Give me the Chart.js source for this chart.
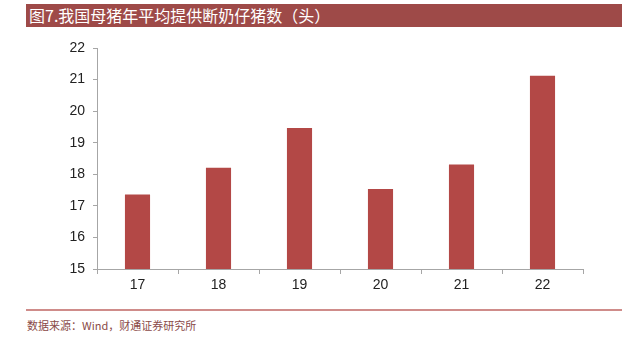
<!DOCTYPE html>
<html>
<head>
<meta charset="utf-8">
<script src="https://cdn.jsdelivr.net/npm/chart.js@4.4.1/dist/chart.umd.min.js"></script>
<style>
  body { margin: 0; background: #fff; }
  #wrap { position: relative; width: 641px; height: 343px; overflow: hidden; }
  #title {
    position: absolute; left: 26px; top: 4px; width: 596px; height: 23px;
    background: #9e4a48; color: #fff;
    font: 16px "Noto Sans CJK SC", sans-serif; line-height: 23px;
    padding-left: 3px; box-sizing: border-box;
  }
  #chartBox { position: absolute; left: 0; top: 30px; width: 641px; height: 270px; }
  #rule { position: absolute; left: 26px; top: 309px; width: 596px; height: 2px; background: #cf8c8a; }
  #source {
    position: absolute; left: 27px; top: 317px;
    font: 11px "Noto Sans CJK SC", sans-serif; color: #8a4a48;
  }
</style>
</head>
<body>
<div id="wrap">
  <div id="title">图7.我国母猪年平均提供断奶仔猪数（头）</div>
  <div id="chartBox"><canvas id="pigChart"></canvas></div>
  <div id="rule"></div>
  <div id="source">数据来源：Wind，财通证券研究所</div>
</div>
<script>
// --- data ---
const years = ['17', '18', '19', '20', '21', '22'];
const pigsPerSow = [17.36, 18.21, 19.47, 17.53, 18.31, 21.12];
const yTicks = [15, 16, 17, 18, 19, 20, 21, 22];

const axisGrey = '#a6a6a6';

const ctx = document.getElementById('pigChart').getContext('2d');
new Chart(ctx, {
    type: 'bar',
    data: {
        labels: years,
        datasets: [{
            data: pigsPerSow,
            backgroundColor: '#b34846',
            borderWidth: 0,
            barPercentage: 0.62,
            categoryPercentage: 0.5
        }]
    },
    options: {
        responsive: true,
        maintainAspectRatio: false,
        animation: false,
        layout: { padding: { left: 0, right: 58, top: 18, bottom: 0 } },
        plugins: { legend: { display: false }, tooltip: { enabled: false } },
        scales: {
            x: {
                grid: { offset: true, drawOnChartArea: false, drawTicks: true, tickLength: 5, color: axisGrey },
                border: { color: axisGrey, width: 1 },
                ticks: { color: '#222', font: { family: 'Liberation Sans', size: 14 }, padding: 3 },
                afterFit: (scale) => { scale.height = 31; }
            },
            y: {
                min: 15,
                max: 22,
                afterBuildTicks: (scale) => { scale.ticks = yTicks.map(v => ({ value: v })); },
                grid: { drawOnChartArea: false, drawTicks: true, tickLength: 4, color: axisGrey },
                border: { color: axisGrey, width: 1 },
                ticks: { color: '#222', font: { family: 'Liberation Sans', size: 14 }, padding: 8 },
                afterFit: (scale) => { scale.width = 97; }
            }
        }
    }
});
</script>
</body>
</html>
